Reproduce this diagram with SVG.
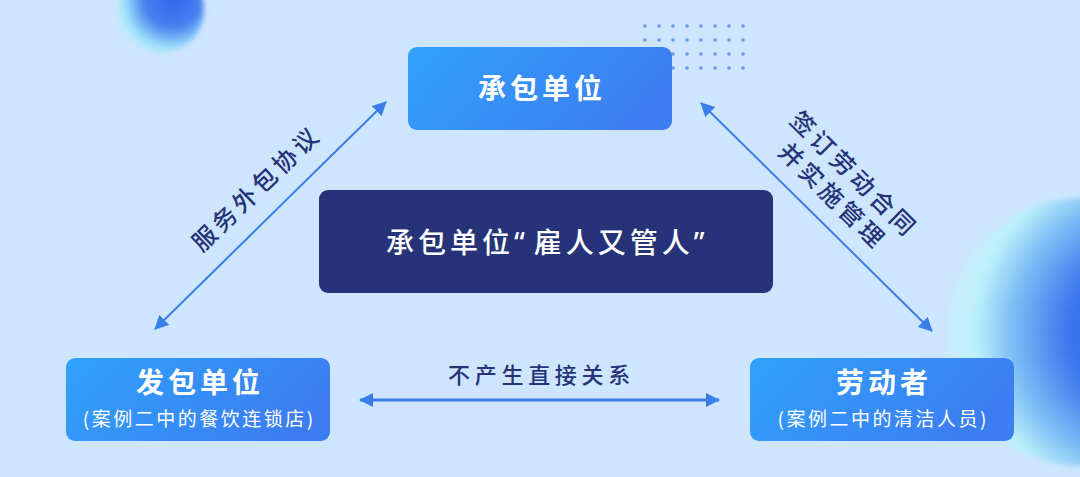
<svg xmlns="http://www.w3.org/2000/svg" width="1080" height="477" viewBox="0 0 1080 477">
<defs>
<style>
.t{font-family:"Noto Sans CJK SC","Noto Sans",sans-serif;text-anchor:middle}
.title{font-size:28px;font-weight:700;fill:#fff;letter-spacing:4px}
.sub{font-size:19px;fill:#fff;letter-spacing:2.5px}
.lab{font-size:24px;fill:#263378;font-weight:500;letter-spacing:4px}
.conn{stroke:#3a7ee9;fill:none}
.dot{fill:#6f96ea}
.q{font-family:"Noto Sans","Liberation Sans",sans-serif}
</style>
<linearGradient id="boxg" x1="0" y1="0" x2="1" y2="0.3">
<stop offset="0" stop-color="#30a2fc"/>
<stop offset="1" stop-color="#3c7ef1"/>
</linearGradient>
<radialGradient id="blobR" cx="0.72" cy="0.5" r="0.7" fx="0.8" fy="0.5">
<stop offset="0" stop-color="#2f5fea"/>
<stop offset="0.45" stop-color="#3c76ee"/>
<stop offset="0.72" stop-color="#7dbdf5"/>
<stop offset="0.9" stop-color="#bdf1fb"/>
<stop offset="1" stop-color="#c9eefc"/>
</radialGradient>
<radialGradient id="blobT" cx="0.62" cy="0.4" r="0.65" fx="0.65" fy="0.35">
<stop offset="0" stop-color="#2f66ee"/>
<stop offset="0.5" stop-color="#4680f0"/>
<stop offset="0.85" stop-color="#9fe0fa"/>
<stop offset="1" stop-color="#c3eefb"/>
</radialGradient>
<filter id="soft" x="-20%" y="-20%" width="140%" height="140%"><feGaussianBlur stdDeviation="2.5"/></filter>
<marker id="ah" viewBox="0 0 14 14" refX="13" refY="7" markerWidth="14" markerHeight="14" markerUnits="userSpaceOnUse" orient="auto-start-reverse">
<path d="M0,0 L14,7 L0,14 z" fill="#3a7ee9"/>
</marker>
</defs>
<rect width="1080" height="477" fill="#cde5fd"/>
<g id="decor">
<ellipse cx="161" cy="10" rx="43" ry="43" fill="url(#blobT)" filter="url(#soft)"/>
<circle cx="1082" cy="332" r="134" fill="url(#blobR)" filter="url(#soft)"/>
<g id="dots">
<circle class="dot" cx="645" cy="26" r="1.8"/><circle class="dot" cx="659" cy="26" r="1.8"/><circle class="dot" cx="673" cy="26" r="1.8"/><circle class="dot" cx="687" cy="26" r="1.8"/><circle class="dot" cx="701" cy="26" r="1.8"/><circle class="dot" cx="715" cy="26" r="1.8"/><circle class="dot" cx="729" cy="26" r="1.8"/><circle class="dot" cx="743" cy="26" r="1.8"/>
<circle class="dot" cx="645" cy="40" r="1.8"/><circle class="dot" cx="659" cy="40" r="1.8"/><circle class="dot" cx="673" cy="40" r="1.8"/><circle class="dot" cx="687" cy="40" r="1.8"/><circle class="dot" cx="701" cy="40" r="1.8"/><circle class="dot" cx="715" cy="40" r="1.8"/><circle class="dot" cx="729" cy="40" r="1.8"/><circle class="dot" cx="743" cy="40" r="1.8"/>
<circle class="dot" cx="673" cy="54" r="1.8"/><circle class="dot" cx="687" cy="54" r="1.8"/><circle class="dot" cx="701" cy="54" r="1.8"/><circle class="dot" cx="715" cy="54" r="1.8"/><circle class="dot" cx="729" cy="54" r="1.8"/><circle class="dot" cx="743" cy="54" r="1.8"/>
<circle class="dot" cx="673" cy="68" r="1.8"/><circle class="dot" cx="687" cy="68" r="1.8"/><circle class="dot" cx="701" cy="68" r="1.8"/><circle class="dot" cx="715" cy="68" r="1.8"/><circle class="dot" cx="729" cy="68" r="1.8"/><circle class="dot" cx="743" cy="68" r="1.8"/>
</g>
</g>
<g id="connectors">
<line class="conn" x1="155" y1="329" x2="386" y2="102" stroke-width="2" marker-start="url(#ah)" marker-end="url(#ah)"/>
<line class="conn" x1="701" y1="103" x2="932" y2="331" stroke-width="2" marker-start="url(#ah)" marker-end="url(#ah)"/>
<line class="conn" x1="360" y1="400" x2="719" y2="400" stroke-width="3" marker-start="url(#ah)" marker-end="url(#ah)"/>
<text class="t lab" transform="translate(255,190) rotate(-44)" x="2" y="8.5">服务外包协议</text>
<g transform="translate(842,184) rotate(44.6)">
<text class="t lab" x="2" y="-6.5">签订劳动合同</text>
<text class="t lab" x="2" y="24">并实施管理</text>
</g>
<text class="t lab" x="541.5" y="383" style="font-size:22px;letter-spacing:4.7px">不产生直接关系</text>
</g>
<g id="node-contractor">
<rect x="408" y="47" width="264" height="83" rx="9" fill="url(#boxg)"/>
<text class="t title" x="542" y="99">承包单位</text>
</g>
<g id="node-center">
<rect x="319" y="190" width="454" height="103" rx="9" fill="#263378"/>
<text class="t" x="386" y="253" style="text-anchor:start;font-size:28px;fill:#fff;font-weight:500;letter-spacing:4px">承包单位<tspan class="q" style="letter-spacing:9px">“</tspan>雇人又管人<tspan class="q">”</tspan></text>
</g>
<g id="node-client">
<rect x="66" y="358" width="264" height="83" rx="9" fill="url(#boxg)"/>
<text class="t title" x="200" y="393">发包单位</text>
<text class="t sub" x="199.25" y="426">(案例二中的餐饮连锁店)</text>
</g>
<g id="node-worker">
<rect x="750" y="358" width="264" height="83" rx="9" fill="url(#boxg)"/>
<text class="t title" x="884" y="393">劳动者</text>
<text class="t sub" x="883.25" y="426">(案例二中的清洁人员)</text>
</g>
</svg>
